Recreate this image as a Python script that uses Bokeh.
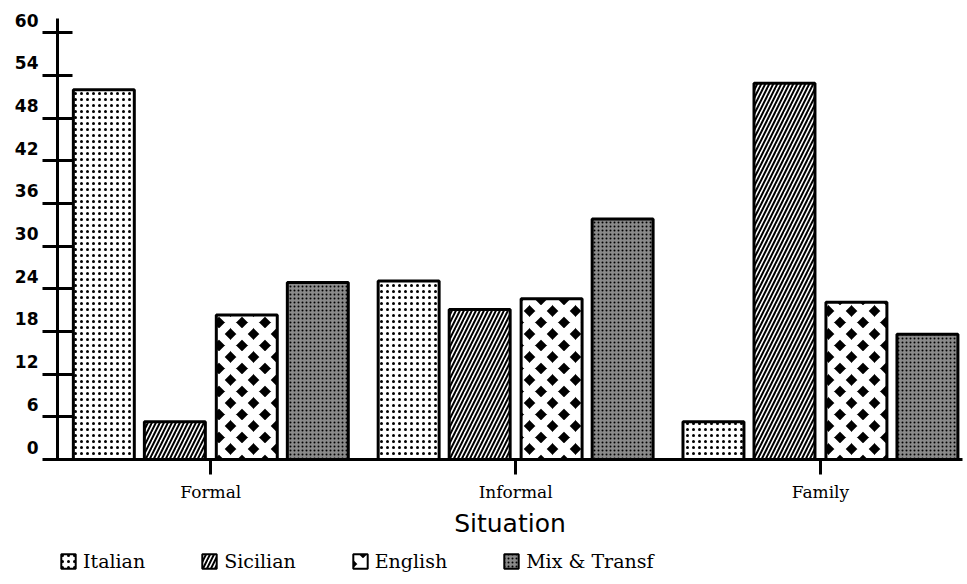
from bokeh.plotting import figure
from bokeh.layouts import column
from bokeh.models import Range1d, FixedTicker, Legend, LegendItem, ColumnDataSource
from bokeh.embed import file_html
from bokeh.resources import INLINE

# ---- data ----
situations = ["Formal", "Informal", "Family"]
languages = ["Italian", "Sicilian", "English", "Mix & Transf"]
italian = [52.0, 25.1, 5.3]
sicilian = [5.3, 21.1, 52.9]
english = [20.3, 22.6, 22.1]
mix = [24.9, 33.8, 17.6]
y_ticks = [0, 6, 12, 18, 24, 30, 36, 42, 48, 54, 60]
x_title = "Situation"

series = [italian, sicilian, english, mix]

p = figure(width=964, height=540, output_backend="svg", toolbar_location=None,
           x_range=Range1d(-0.503, 2.466), y_range=Range1d(0, 62),
           min_border_left=57, min_border_right=2, min_border_top=18,
           min_border_bottom=79)
p.outline_line_color = None
p.xgrid.visible = False
p.ygrid.visible = False

# legend-only strip below the chart
p2 = figure(width=964, height=44, output_backend="svg", toolbar_location=None,
            x_range=Range1d(-0.503, 2.466), y_range=Range1d(0, 62),
            x_axis_location=None, y_axis_location=None,
            min_border_left=0, min_border_right=0, min_border_top=0, min_border_bottom=0)
p2.outline_line_color = None
p2.xgrid.visible = False
p2.ygrid.visible = False

offsets = [-0.351, -0.118, 0.118, 0.351]
styles = [
    dict(fill_color="white", hatch_pattern="dot", hatch_color="black", hatch_scale=6, hatch_weight=1.2),
    dict(fill_color="white", hatch_pattern="right_diagonal_line", hatch_color="black", hatch_scale=8, hatch_weight=2),
    dict(fill_color="black", hatch_pattern="diagonal_cross", hatch_color="white", hatch_scale=23, hatch_weight=8),
    dict(fill_color="#8a8a8a", hatch_pattern="dot", hatch_color="black", hatch_scale=4, hatch_weight=1),
]

items = []
for name, vals, off, st in zip(languages, series, offsets, styles):
    src = ColumnDataSource(dict(x=[i + off for i in range(len(situations))], top=vals))
    p.vbar(x="x", top="top", bottom=0, width=0.2, source=src,
           line_color="black", line_width=3, **st)
    r2 = p2.vbar(x="x", top="top", bottom=0, width=0.2, source=src,
                 line_color="black", line_width=2, visible=False, **st)
    items.append(LegendItem(label=name, renderers=[r2]))

# y axis
p.yaxis.ticker = FixedTicker(ticks=y_ticks)
p.yaxis.major_label_overrides = {t: f"{t}\n " for t in y_ticks}
p.yaxis.major_tick_in = 15
p.yaxis.major_tick_out = 15
p.yaxis.major_tick_line_width = 3
p.yaxis.axis_line_width = 3
p.yaxis.minor_tick_line_color = None
p.yaxis.major_label_standoff = 4
p.yaxis.major_label_text_font = "DejaVu Sans"
p.yaxis.major_label_text_font_style = "bold"
p.yaxis.major_label_text_font_size = "17px"
p.yaxis.major_label_text_color = "black"

# x axis
p.xaxis.ticker = FixedTicker(ticks=list(range(len(situations))))
p.xaxis.major_label_overrides = {i: s for i, s in enumerate(situations)}
p.xaxis.major_tick_in = 0
p.xaxis.major_tick_out = 15
p.xaxis.major_tick_line_width = 3
p.xaxis.axis_line_width = 3
p.xaxis.minor_tick_line_color = None
p.xaxis.major_label_standoff = 7
p.xaxis.major_label_text_font = "DejaVu Serif"
p.xaxis.major_label_text_font_size = "17px"
p.xaxis.major_label_text_color = "black"
p.xaxis.axis_label = x_title
p.xaxis.axis_label_text_font = "DejaVu Sans"
p.xaxis.axis_label_text_font_style = "normal"
p.xaxis.axis_label_text_font_size = "25px"
p.xaxis.axis_label_text_color = "black"
p.xaxis.axis_label_standoff = 4

legend = Legend(items=items, orientation="horizontal", location=(2, 12),
                glyph_width=18, glyph_height=18, label_standoff=6,
                label_width=20, spacing=55, padding=0, margin=0,
                border_line_color=None, background_fill_alpha=0,
                inactive_fill_alpha=0,
                label_text_font="DejaVu Serif", label_text_font_size="19px",
                label_text_color="black")
p2.add_layout(legend, "center")

layout = column(p, p2, spacing=0)
open("out.html", "w").write(file_html(layout, INLINE))
